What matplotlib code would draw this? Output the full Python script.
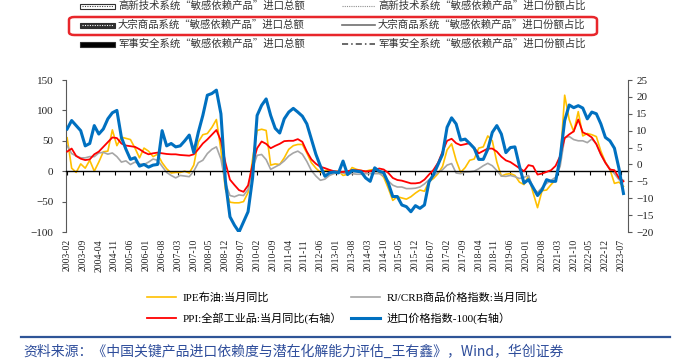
import numpy as np
import pandas as pd
import matplotlib.pyplot as plt
from matplotlib.lines import Line2D
from matplotlib.patches import Rectangle, FancyBboxPatch

# bi-monthly readings, 2003-02 .. 2023-08
dates = pd.date_range("2003-02-01", "2023-08-01", freq="2MS")

tick_labels = ["2003-02", "2003-09", "2004-04", "2004-11", "2005-06", "2006-01",
               "2006-08", "2007-03", "2007-10", "2008-05", "2008-12", "2009-07",
               "2010-02", "2010-09", "2011-04", "2011-11", "2012-06", "2013-01",
               "2013-08", "2014-03", "2014-10", "2015-05", "2015-12", "2016-07",
               "2017-02", "2017-09", "2018-04", "2018-11", "2019-06", "2020-01",
               "2020-08", "2021-03", "2021-10", "2022-05", "2022-12", "2023-07"]

# IPE布油 当月同比 (left axis)
ipe = [55, 5, -2, 12, 5, 18, 0, 15, 32, 33, 68, 42,
       56, 54, 52, 38, 22, 38, 33, 24, 28, 14, 4, -3,
       -2, -2, 0, -3, 10, 48, 60, 62, 72, 85, 35, -30,
       -51, -52, -52, -50, -35, 20, 67, 69, 67, 10, 12, 11,
       22, 36, 42, 44, 44, 30, 14, 5, -2, 1, 1.6, -1,
       0, -7, -5, 6, 3, 1, 0, 2, 3, -2, -10, -28,
       -48, -42, -44, -46, -42, -36, -31, -33, -17, -12, -4, 8,
       35, 45, 18, -2, 6, 18, 20, 38, 40, 58, 50, 15,
       -8, -5, -4, -7, -18, -22, -8, -35, -60, -32, -31, -22,
       -14, 15, 125, 85, 65, 98, 58, 62, 60, 57, 33, 15,
       3, -20, -18, -25]

# RJ/CRB 商品价格指数 当月同比 (left axis)
crb = [42, 29, 25, 22, 22, 24, 24, 30, 31, 28, 30, 24,
       15, 17, 11, 15, 12, 11, 15, 20, 18, 8, -2, -7,
       -11, -7, -8, -9, 0, 14, 18, 29, 36, 40, 20, -20,
       -40, -42, -39, -40, -30, 5, 26, 27.5, 19, 3, 7, 11,
       17, 25, 30, 33, 28, 16, 1, -8, -15, -13, -7, -4,
       -2, -3, -4, -4, -5, -5, -4, -4, -4, -4, -8, -16,
       -23, -26, -26, -28.6, -28.6, -28, -26, -21, -14, -8, -2, 2.5,
       10, 12.6, -3, -4, -1.5, -1, 0, 4, 9, 13, 9, 1,
       -8, -8.5, -7, -9, -12, -10, -7, -28, -35, -27, -20, -15,
       -10, 8, 55, 57, 52, 50, 50, 47, 53, 45, 27, 14,
       4, -4, -14, -15]

# PPI 全部工业品 当月同比 (right axis)
ppi = [3.8, 4.7, 2.5, 1.7, 1.3, 1.5, 3.0, 3.8, 5.2, 6.6, 8.0, 7.8,
       6.2, 5.6, 5.4, 5.2, 4.5, 3.6, 3.0, 3.3, 3.5, 3.3, 3.1, 3.0,
       3.0, 2.8, 2.7, 2.6, 3.0, 4.5, 6.2, 7.4, 8.8, 10.2, 7.0, 0.5,
       -4.5, -6.1, -7.6, -8.1, -6.2, 0.0, 4.8, 6.8, 6.1, 4.8, 5.5, 6.1,
       6.9, 7.0, 7.0, 7.5, 6.7, 3.8, 1.5, 0.2, -0.7, -1.1, -1.6, -2.0,
       -2.2, -2.2, -2.0, -1.7, -1.7, -1.8, -2.1, -2.0, -1.6, -1.2, -1.5, -2.5,
       -4.0, -4.6, -4.8, -5.2, -5.6, -5.6, -5.4, -4.5, -3.0, -1.6, 0.5, 3.8,
       7.0, 7.6, 6.3, 5.7, 6.0, 6.3, 4.8, 3.3, 4.0, 4.7, 4.7, 3.8,
       2.3, 1.2, 0.7, -0.2, -1.1, -2.0, -0.2, -0.5, -3.0, -2.7, -2.2, -1.7,
       -0.4, 2.5, 7.8, 8.9, 9.8, 13.3, 9.5, 8.9, 8.0, 6.0, 3.0, 0.5,
       -1.5, -1.7, -4.0, -5.0]

# 进口价格指数-100 (right axis)
imp = [10.5, 13.0, 11.5, 10.0, 5.5, 6.2, 11.5, 9.0, 10.5, 13.5, 15.3, 16.0,
       8.0, 4.5, 1.5, 2.0, -0.5, 0.0, -0.8, -0.2, 0.0, 10.0, 5.5, 6.2,
       5.2, 5.5, 7.0, 8.7, 3.5, 9.5, 14.5, 20.5, 21.0, 22.0, 15.0, -5.0,
       -15.5, -18.0, -20.0, -17.0, -14.0, -4.0, 14.5, 17.5, 19.4, 14.5, 10.7, 9.3,
       13.5, 15.5, 16.6, 15.5, 14.3, 12.0, 7.5, 3.0, -0.5, -3.5, -2.5, -2.2,
       -2.5, 1.0, -3.0, -1.8, -2.0, -2.2, -4.0, -5.0, -1.0, -2.0, -2.5, -5.5,
       -9.5, -9.5, -12.0, -12.5, -14.0, -12.2, -13.0, -12.0, -5.2, -3.0, 0.0, 3.0,
       11.0, 13.8, 12.0, 7.2, 7.5, 6.2, 4.8, 1.5, 1.5, 4.5, 9.5, 11.5,
       9.0, 3.5, 5.0, 5.2, -0.5, -5.5, -4.5, -6.8, -9.2, -7.5, -4.5, -5.0,
       -5.0, 2.0, 13.0, 17.6, 16.8, 17.4, 16.7, 13.5, 15.5, 15.0, 12.0, 8.0,
       7.0, 4.8, -1.2, -8.6]

series_names = ["IPE布油:当月同比", "PPI:全部工业品:当月同比(右轴）",
                "RJ/CRB商品价格指数:当月同比", "进口价格指数-100(右轴）"]

top_left = ["高新技术系统“敏感依赖产品”进口总额",
            "大宗商品系统“敏感依赖产品”进口总额",
            "军事安全系统“敏感依赖产品”进口总额"]
top_right = ["高新技术系统“敏感依赖产品”进口份额占比",
             "大宗商品系统“敏感依赖产品”进口份额占比",
             "军事安全系统“敏感依赖产品”进口份额占比"]
source = "资料来源：《中国关键产品进口依赖度与潜在化解能力评估_王有鑫》，Wind，华创证券"

plt.rcParams['font.family'] = ['Liberation Serif', 'Noto Sans CJK SC']
CJK = ['Noto Sans CJK SC', 'DejaVu Sans']

W, H = 673, 360
x = np.asarray((dates.year - 2003) * 12 + dates.month - 2)
tl = pd.to_datetime(tick_labels, format="%Y-%m")
tick_pos = np.asarray((tl.year - 2003) * 12 + tl.month - 2)

fig = plt.figure(figsize=(W / 100, H / 100), dpi=100)


def fx(px):
    return px / W


def fy(py):
    return 1 - py / H


ax = fig.add_axes([fx(66), fy(232), (628 - 66) / W, (232 - 80) / H])
l_ipe, = ax.plot(x, ipe, color='#FFC000', lw=1.2)
l_crb, = ax.plot(x, crb, color='#A6A6A6', lw=1.2)
ax.set_ylim(-100, 150)
ax.set_yticks(range(-100, 151, 50))
ax.set_xlim(-0.5, 248)

ax2 = ax.twinx()
l_ppi, = ax2.plot(x, ppi, color='#FF0000', lw=1.3)
l_imp, = ax2.plot(x, imp, color='#0070C0', lw=2.2)
ax2.set_ylim(-20, 25)
ax2.set_yticks(range(-20, 26, 5))

spine_c = '#595959'
for a in (ax, ax2):
    a.spines['top'].set_visible(False)
ax.spines['right'].set_visible(False)
ax2.spines['left'].set_visible(False)
ax2.spines['bottom'].set_visible(False)
ax.spines['left'].set_color(spine_c)
ax2.spines['right'].set_color(spine_c)
ax.spines['bottom'].set_position(('data', 0))
ax.spines['bottom'].set_color('black')
ax.spines['bottom'].set_linewidth(1.0)

ax.set_xticks(tick_pos)
ax.tick_params(axis='x', length=3, direction='out', labelbottom=False, color='black')
ax.tick_params(axis='y', length=3, color=spine_c, labelsize=8, pad=6, labelcolor='#222222')
ax2.tick_params(axis='y', length=3, color=spine_c, labelsize=8, pad=3, labelcolor='#222222')

sec = ax.secondary_xaxis('bottom')
sec.set_xticks(tick_pos, tick_labels, rotation=90, fontsize=7, color='#222222')
sec.tick_params(length=0, pad=5)
sec.spines['bottom'].set_visible(False)

# bottom legend
fig.legend([l_ipe, l_ppi, l_crb, l_imp], series_names, ncol=2, loc='upper left',
           bbox_to_anchor=(fx(147), fy(292)), frameon=False, fontsize=8,
           handlelength=2.6, handletextpad=0.6, columnspacing=0.8,
           labelspacing=0.85, borderpad=0, borderaxespad=0)

# legend fragment at the top
rows = [6, 25, 44]
for i, yy in enumerate(rows):
    rect_fc = ['white', '#303030', 'black'][i]
    fig.add_artist(Rectangle((fx(80), fy(yy + 2.5)), 35 / W, 5 / H, transform=fig.transFigure,
                             facecolor=rect_fc, edgecolor='#303030', lw=0.8))
    if i < 2:
        dot_c = '#404040' if i == 0 else 'white'
        fig.add_artist(Line2D([fx(82), fx(113)], [fy(yy), fy(yy)], transform=fig.transFigure,
                              color=dot_c, lw=0.8, ls=(0, (1, 1.2))))
    ls = [(0, (1, 1)), '-', (0, (4, 2, 1, 2))][i]
    lc = ['#909090', '#707070', '#404040'][i]
    lw = [0.8, 1.2, 1.1][i]
    fig.add_artist(Line2D([fx(342), fx(375)], [fy(yy), fy(yy)], transform=fig.transFigure,
                          color=lc, lw=lw, ls=ls))
    fig.text(fx(118), fy(yy), top_left[i], fontsize=7.5, color='#333333',
             family=CJK, va='center', ha='left')
    fig.text(fx(378), fy(yy), top_right[i], fontsize=7.5, color='#333333',
             family=CJK, va='center', ha='left')

fig.add_artist(FancyBboxPatch((fx(69), fy(35)), (597 - 69) / W, 18 / H,
                              boxstyle='round,pad=0,rounding_size=0.008',
                              transform=fig.transFigure, facecolor='none',
                              edgecolor='#E8262B', lw=1.8))

# source line
fig.add_artist(Line2D([fx(21), fx(670)], [fy(337), fy(337)], transform=fig.transFigure,
                      color='#2F5597', lw=1.6))
fig.text(fx(23), fy(352), source, fontsize=10, color='#2E4D9B', family=CJK,
         va='center', ha='left', style='italic')

fig.savefig('out.png', dpi=100)
